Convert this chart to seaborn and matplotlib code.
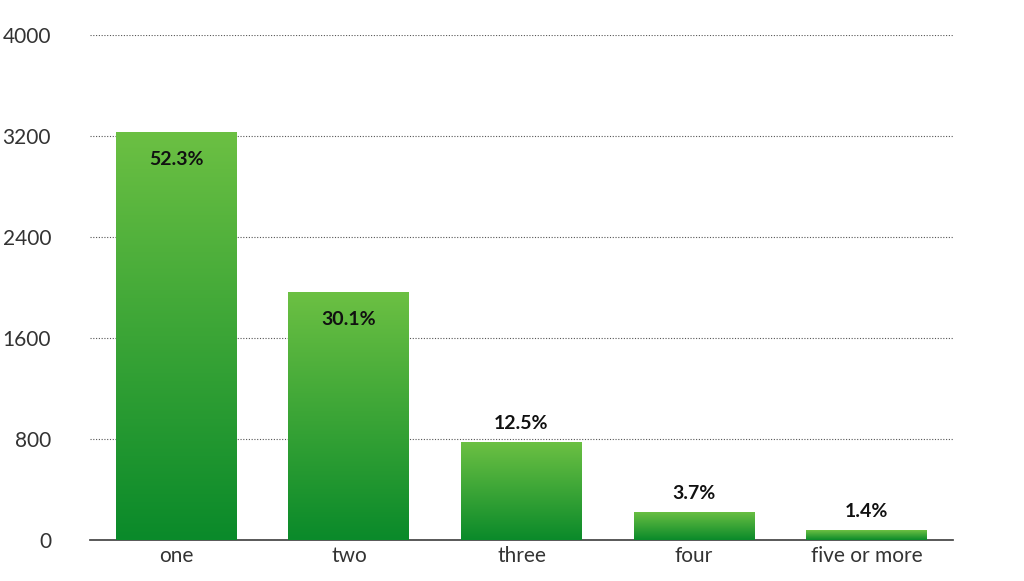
import matplotlib
matplotlib.use("Agg")
import matplotlib.pyplot as plt
import seaborn as sns
import numpy as np
import pandas as pd
from matplotlib.colors import LinearSegmentedColormap

categories = ["one", "two", "three", "four", "five or more"]
values = [3232, 1964, 776, 222, 79]
labels = ["52.3%", "30.1%", "12.5%", "3.7%", "1.4%"]
yticks = [0, 800, 1600, 2400, 3200, 4000]

sns.set_theme(style="white")
plt.rcParams['font.family'] = ['Lato', 'DejaVu Sans']
fig = plt.figure(figsize=(10.24, 5.81), dpi=100)
ax = fig.add_axes([90/1024, 41/581, 863/1024, 505/581])
df = pd.DataFrame({"cat": categories, "val": values})
sns.barplot(data=df, x="cat", y="val", ax=ax, color="#3aa83a", width=0.7, saturation=1)
ax.set_ylim(0, 4000)
ax.set_xlim(-0.5, 4.5)
ax.set_yticks(yticks)
ax.set_yticklabels([str(t) for t in yticks], fontsize=15, color="#333333")
ax.tick_params(axis='x', labelsize=15, colors="#333333", length=0, pad=4)
ax.tick_params(axis='y', length=0, pad=28)
ax.set_xlabel(""); ax.set_ylabel("")
for s in ["top", "right", "left"]:
    ax.spines[s].set_visible(False)
ax.spines["bottom"].set_color("#444444")
ax.yaxis.grid(True, linestyle=(0, (1, 1.5)), color="#555555", linewidth=0.8)
ax.set_axisbelow(True)

cmap = LinearSegmentedColormap.from_list("g", ["#0a8a2a", "#6cc043"])
grad = np.linspace(0, 1, 256).reshape(-1, 1)
for p, v, lab in zip(ax.patches, values, labels):
    x0, w, h = p.get_x(), p.get_width(), p.get_height()
    im = ax.imshow(grad, cmap=cmap, origin="lower", aspect="auto",
                   extent=[x0, x0 + w, 0, h], zorder=3)
    im.set_clip_path(p)
    p.set_facecolor("none"); p.set_edgecolor("none")
    if h > 1500:
        ax.text(x0 + w/2, h - 220, lab, ha="center", va="center", fontsize=14,
                fontweight="bold", color="#111111", zorder=4)
    else:
        ax.text(x0 + w/2, h + 150, lab, ha="center", va="center", fontsize=14,
                fontweight="bold", color="#111111", zorder=4)
ax.set_xlim(-0.5, 4.5); ax.set_ylim(0, 4000)
fig.savefig("out.png", dpi=100)
